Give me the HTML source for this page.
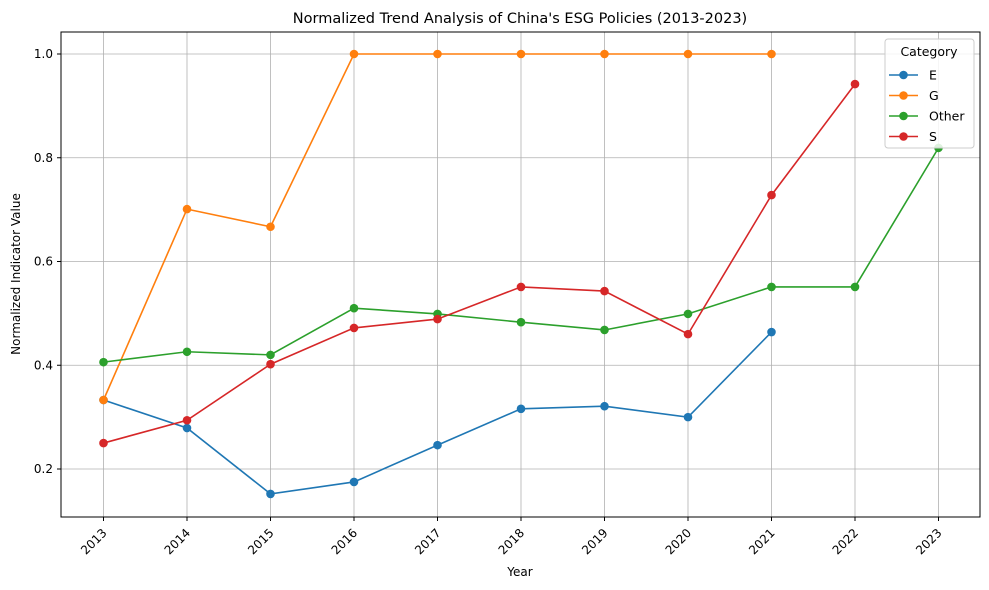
<!DOCTYPE html>
<html><head><meta charset="utf-8"><style>
html,body{margin:0;padding:0;background:#fff;}
svg{display:block;font-family:"DejaVu Sans","Liberation Sans",sans-serif;}
</style></head><body>
<svg id="chart" width="989" height="590" viewBox="0 0 989 590">
<rect x="0" y="0" width="989" height="590" fill="#fff"/>
<text x="520" y="23" text-anchor="middle" font-size="14.5">Normalized Trend Analysis of China's ESG Policies (2013-2023)</text>
<g id="grid"></g>
<g id="series"></g>
<rect x="61" y="32" width="919" height="485" fill="none" stroke="#000" stroke-width="1"/>
<g id="axes"></g>
<text x="520" y="576" text-anchor="middle" font-size="12">Year</text>
<text transform="translate(20,274) rotate(-90)" text-anchor="middle" font-size="12">Normalized Indicator Value</text>
<g id="legend">
<rect x="885" y="39" width="89" height="109" rx="3" fill="#fff" fill-opacity="0.85" stroke="#ccc"/>
<text x="929" y="56" text-anchor="middle" font-size="12.5">Category</text>
</g>
</svg>
<script>
const years = [2013,2014,2015,2016,2017,2018,2019,2020,2021,2022,2023];
const yTicks = [0.2,0.4,0.6,0.8,1.0];
const seriesNames = ["E","G","Other","S"];
const seriesColors = ["#1f77b4","#ff7f0e","#2ca02c","#d62728"];
const eVals = [0.333,0.279,0.152,0.175,0.246,0.316,0.321,0.300,0.464,null,null];
const gVals = [0.333,0.701,0.667,1.0,1.0,1.0,1.0,1.0,1.0,null,null];
const otherVals = [0.406,0.426,0.420,0.510,0.499,0.483,0.468,0.499,0.551,0.551,0.819];
const sVals = [0.250,0.294,0.402,0.472,0.489,0.551,0.543,0.460,0.728,0.942,null];
const allVals = [eVals,gVals,otherVals,sVals];

const NS="http://www.w3.org/2000/svg";
function xS(yr){return 103.5+(yr-2013)*83.5;}
function yS(v){return 469-(v-0.2)*518.75;}
function mk(tag,attrs,parent){const e=document.createElementNS(NS,tag);for(const k in attrs)e.setAttribute(k,attrs[k]);parent.appendChild(e);return e;}
const grid=document.getElementById('grid'),axes=document.getElementById('axes'),ser=document.getElementById('series'),leg=document.getElementById('legend');
years.forEach(yr=>{
  const x=xS(yr);
  const gl=mk('line',{x1:x,x2:x,y1:32,y2:517,stroke:'#b0b0b0','stroke-width':0.8},grid);
  
  
  mk('line',{x1:x,x2:x,y1:517,y2:521,stroke:'#000'},axes);
  const t=mk('text',{x:x,y:532,'font-size':12,'text-anchor':'end',transform:`rotate(-45 ${x+4} 528)`},axes);
  t.textContent=yr;
  
  
});
yTicks.forEach(v=>{
  const y=yS(v);
  const gl=mk('line',{x1:61,x2:980,y1:y,y2:y,stroke:'#b0b0b0','stroke-width':0.8},grid);
  
  
  mk('line',{x1:57,x2:61,y1:y,y2:y,stroke:'#000'},axes);
  const t=mk('text',{x:53,y:y+4,'font-size':12,'text-anchor':'end'},axes);
  t.textContent=v.toFixed(1);
  
  
});
allVals.forEach((vals,i)=>{
  const g=mk('g',{},ser);
  
  
  const pts=[];
  vals.forEach((v,j)=>{if(v!==null)pts.push([xS(years[j]),yS(v)]);});
  mk('polyline',{points:pts.map(p=>p.join(',')).join(' '),fill:'none',stroke:seriesColors[i],'stroke-width':1.6},g);
  pts.forEach(p=>{
    const c=mk('circle',{cx:p[0],cy:p[1],r:4.3,fill:seriesColors[i]},g);
    
    
  });
  const ly=75+i*20.5;
  const le=mk('g',{},leg);
  
  
  mk('line',{x1:889,x2:918,y1:ly,y2:ly,stroke:seriesColors[i],'stroke-width':1.6},le);
  mk('circle',{cx:903.5,cy:ly,r:4.3,fill:seriesColors[i]},le);
  const t=mk('text',{x:929,y:ly+4.5,'font-size':12.5},le);
  t.textContent=seriesNames[i];
});
</script>
</body></html>
